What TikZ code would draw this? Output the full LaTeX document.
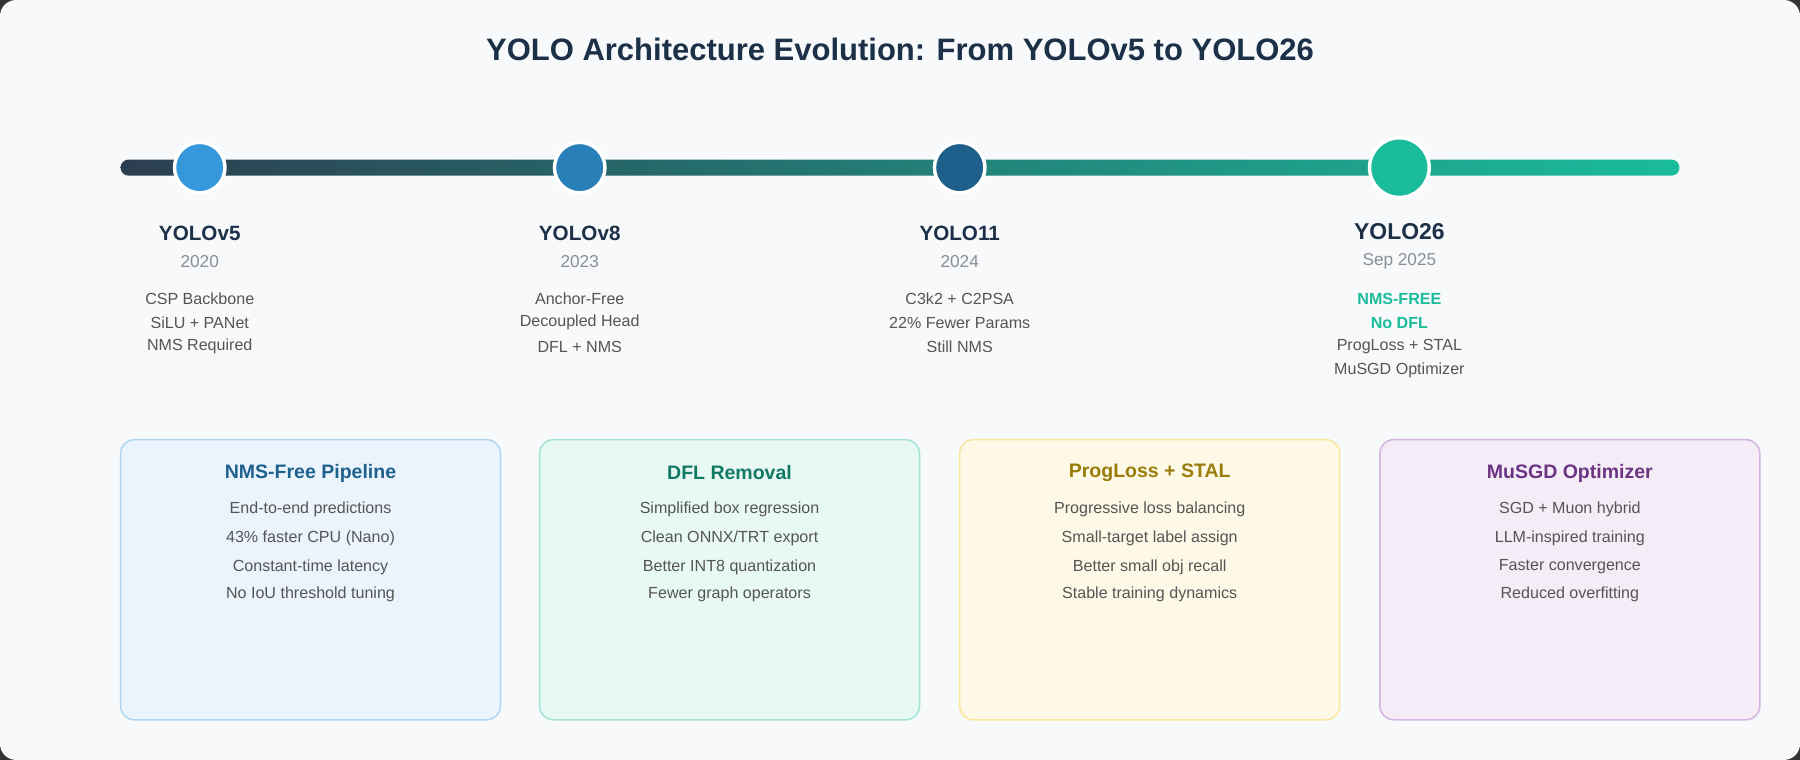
\documentclass[tikz,border=0pt]{standalone}
\usepackage{fontspec}
\setmainfont{Liberation Sans}
\definecolor{bgc}{HTML}{F7F9FB}
\definecolor{dark}{HTML}{1C3047}
\definecolor{txt}{HTML}{555555}
\definecolor{yr}{HTML}{8A8F95}
\definecolor{teal}{HTML}{1ABC9C}
\definecolor{barl}{HTML}{2C3E50}
\tikzset{
 every node/.style={font=\fontsize{14}{14}\selectfont, text=txt, inner sep=0},
 ttl/.style={font=\bfseries\fontsize{27}{27}\selectfont, text=dark},
 nm/.style={font=\bfseries\fontsize{18}{18}\selectfont, text=dark},
 yrs/.style={font=\fontsize{15}{15}\selectfont, text=yr},
 dot/.style={circle, draw=white, line width=3pt, minimum size=#1},
 card/.style={draw=#1, line width=1.3pt, rounded corners=12pt},
 ctitle/.style={font=\bfseries\fontsize{17}{17}\selectfont, text=#1},
}
\begin{document}
\begin{tikzpicture}[x=1pt,y=-1pt]
\fill[black!80] (0,0) rectangle (1568,662);
\useasboundingbox (0,0) rectangle (1568,662);
\fill[bgc, rounded corners=14pt] (0,0) rectangle (1568,662);
\node[ttl] (title) at (784,43) {YOLO Architecture Evolution: From YOLOv5 to YOLO26};
\shade[left color=barl, right color=teal, rounded corners=7pt] (105,139) rectangle (1463,153);
\node[dot=44pt, fill={rgb,255:red,52;green,152;blue,219}] (d1) at (174,146) {};
\node[dot=44pt, fill={rgb,255:red,41;green,128;blue,185}] (d2) at (505,146) {};
\node[dot=44pt, fill={rgb,255:red,31;green,95;blue,139}] (d3) at (836,146) {};
\node[dot=52pt, fill=teal] (d4) at (1219,146) {};
% labels
\node[nm] (n1) at (174,203) {YOLOv5};
\node[yrs] (y1) at (174,228) {2020};
\node (a1) at (174,260) {CSP Backbone};
\node (b1) at (174,281) {SiLU + PANet};
\node (c1) at (174,302) {NMS Required};
\node[nm] (n2) at (505,203) {YOLOv8};
\node[yrs] (y2) at (505,228) {2023};
\node (a2) at (505,260) {Anchor-Free};
\node (b2) at (505,281) {Decoupled Head};
\node (c2) at (505,302) {DFL + NMS};
\node[nm] (n3) at (836,203) {YOLO11};
\node[yrs] (y3) at (836,228) {2024};
\node (a3) at (836,260) {C3k2 + C2PSA};
\node (b3) at (836,281) {22\% Fewer Params};
\node (c3) at (836,302) {Still NMS};
\node[nm, font=\bfseries\fontsize{20}{20}\selectfont] (n4) at (1219,202) {YOLO26};
\node[yrs] (y4) at (1219,228) {Sep 2025};
\node[text=teal, font=\bfseries\fontsize{14}{14}\selectfont] (a4) at (1219,260) {NMS-FREE};
\node[text=teal, font=\bfseries\fontsize{14}{14}\selectfont] (b4) at (1219,281) {No DFL};
\node (c4) at (1219,302) {ProgLoss + STAL};
\node (e4) at (1219,323) {MuSGD Optimizer};
% cards
\definecolor{f1}{HTML}{EBF4FC}\definecolor{s1}{HTML}{AED6F1}\definecolor{t1}{HTML}{1F618D}
\definecolor{f2}{HTML}{E8F8F3}\definecolor{s2}{HTML}{A3E4D7}\definecolor{t2}{HTML}{117A65}
\definecolor{f3}{HTML}{FEF8E6}\definecolor{s3}{HTML}{F9E79F}\definecolor{t3}{HTML}{9A7D0A}
\definecolor{f4}{HTML}{F4ECF7}\definecolor{s4}{HTML}{D2B4DE}\definecolor{t4}{HTML}{6C3483}
\foreach \i/\x in {1/105,2/470,3/836,4/1202}{
  \filldraw[card=s\i, fill=f\i] (\x,383) rectangle (\x+331,627);
}
\node[ctitle=t1] (k1) at (270.5,412) {NMS-Free Pipeline};
\node (k1a) at (270.5,444) {End-to-end predictions};
\node (k1b) at (270.5,469) {43\% faster CPU (Nano)};
\node (k1c) at (270.5,494) {Constant-time latency};
\node (k1d) at (270.5,518) {No IoU threshold tuning};
\node[ctitle=t2] (k2) at (635.5,412) {DFL Removal};
\node (k2a) at (635.5,444) {Simplified box regression};
\node (k2b) at (635.5,469) {Clean ONNX/TRT export};
\node (k2c) at (635.5,494) {Better INT8 quantization};
\node (k2d) at (635.5,518) {Fewer graph operators};
\node[ctitle=t3] (k3) at (1001.5,412) {ProgLoss + STAL};
\node (k3a) at (1001.5,444) {Progressive loss balancing};
\node (k3b) at (1001.5,469) {Small-target label assign};
\node (k3c) at (1001.5,494) {Better small obj recall};
\node (k3d) at (1001.5,518) {Stable training dynamics};
\node[ctitle=t4] (k4) at (1367.5,412) {MuSGD Optimizer};
\node (k4a) at (1367.5,444) {SGD + Muon hybrid};
\node (k4b) at (1367.5,469) {LLM-inspired training};
\node (k4c) at (1367.5,494) {Faster convergence};
\node (k4d) at (1367.5,518) {Reduced overfitting};
\end{tikzpicture}
\end{document}
